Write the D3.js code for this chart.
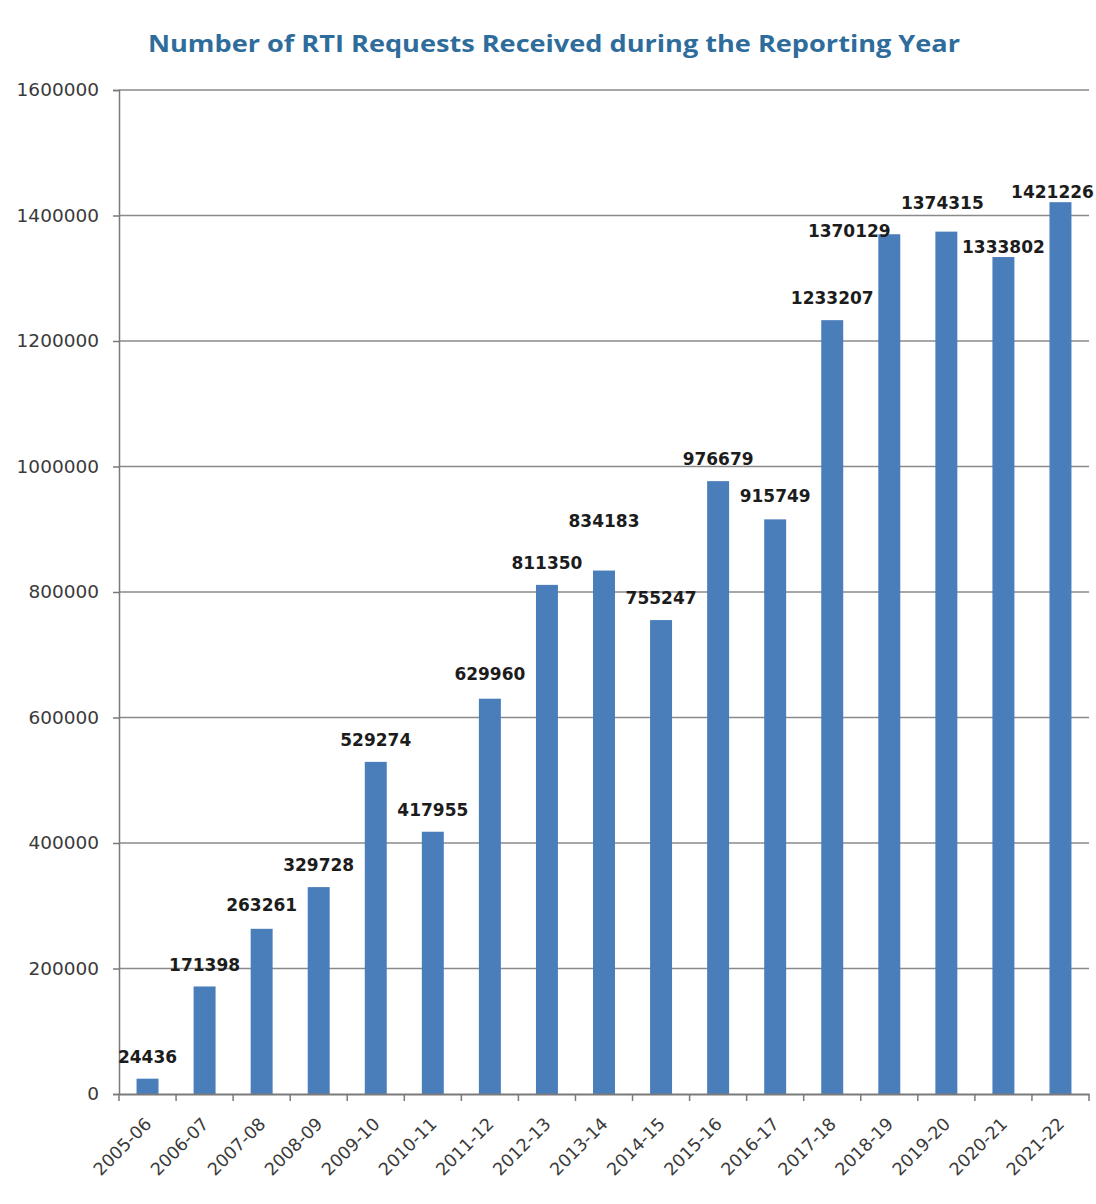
<!DOCTYPE html>
<html>
<head>
<meta charset="utf-8">
<script src="https://cdn.jsdelivr.net/npm/d3@7"></script>
<style>
  body { margin: 0; background: #fff; }
</style>
</head>
<body>
<div id="chart"></div>
<script>
const years = ["2005-06", "2006-07", "2007-08", "2008-09", "2009-10", "2010-11", "2011-12", "2012-13", "2013-14",
	"2014-15", "2015-16", "2016-17", "2017-18", "2018-19", "2019-20", "2020-21", "2021-22"];
const requests = [24436, 171398, 263261, 329728, 529274, 417955, 629960, 811350, 834183,
	755247, 976679, 915749, 1233207, 1370129, 1374315, 1333802, 1421226];
const yTicks = [0, 200000, 400000, 600000, 800000, 1000000, 1200000, 1400000, 1600000];
const titleText = "Number of RTI Requests Received during the Reporting Year";

// hand placed label nudges, like the original (dx, dy)
const labelShift = [[0,0],[0,0],[0,-2],[0,0],[0,0],[0,0],[0,-3],[0,0],[0,-28],
	[0,0],[0,0],[0,-1],[0,0],[-40,19],[-4,-7],[0,12],[-8,12]];

let width = 1096, height = 1204;
let margin = {top: 90, right: 7, bottom: 110, left: 119};
let w = width - margin.left - margin.right;
let h = height - margin.top - margin.bottom;

let root = d3.select("#chart").append("svg")
	.attr("width", width)
	.attr("height", height);

root.append("text")
	.attr("x", 554)
	.attr("y", 52)
	.attr("text-anchor", "middle")
	.attr("textLength", 812)
	.attr("lengthAdjust", "spacingAndGlyphs")
	.style("font-family", "'Open Sans', sans-serif")
	.style("font-weight", "bold")
	.style("font-size", "24px")
	.style("fill", "#2e6c9c")
	.text(titleText);

let svg = root.append("g")
	.attr("transform", `translate(${margin.left},${margin.top})`);

let xScale = d3.scaleBand().domain(years).range([0, w]).paddingInner(0.615).paddingOuter(0.3075);
let yScale = d3.scaleLinear().domain([0, 1600000]).range([h, 0]);

// gridlines
svg.selectAll(".grid")
	.data(yTicks.filter(d => d > 0))
	.enter()
	.append("line")
	.attr("class", "grid")
	.attr("x1", 0)
	.attr("x2", w)
	.attr("y1", d => yScale(d))
	.attr("y2", d => yScale(d))
	.attr("stroke", "#8a8a8a")
	.attr("stroke-width", 1.5);

// y axis
let yAxis = d3.axisLeft(yScale)
	.tickValues(yTicks)
	.tickFormat(d3.format("d"))
	.tickSize(6)
	.tickPadding(14);

let gy = svg.append("g").call(yAxis);
gy.select(".domain").attr("stroke", "#7a7a7a").attr("stroke-width", 1.5);
gy.selectAll(".tick line").attr("stroke", "#7a7a7a").attr("stroke-width", 1.5);
gy.selectAll("text")
	.style("font-family", "'DejaVu Sans', sans-serif")
	.style("font-size", "18.5px")
	.style("fill", "#3a3a3a");

// bars
svg.selectAll(".bar")
	.data(requests)
	.enter()
	.append("rect")
	.attr("class", "bar")
	.attr("x", (d, i) => xScale(years[i]))
	.attr("y", d => yScale(d))
	.attr("width", xScale.bandwidth())
	.attr("height", d => h - yScale(d))
	.attr("fill", "#4a7ebb");

// x axis with ticks between categories
let xAxis = d3.axisBottom(xScale).tickSize(0).tickPadding(0);
let gx = svg.append("g")
	.attr("transform", `translate(0,${h})`)
	.call(xAxis);
gx.select(".domain").attr("stroke", "#7a7a7a").attr("stroke-width", 2);
gx.selectAll(".tick text")
	.attr("text-anchor", "end")
	.attr("dy", 0)
	.attr("transform", "translate(5,31) rotate(-45)")
	.style("font-family", "'DejaVu Sans', sans-serif")
	.style("font-size", "17.5px")
	.style("fill", "#3a3a3a");

let step = xScale.step();
let bounds = years.map(d => xScale(d) + xScale.bandwidth() / 2 - step / 2);
bounds.push(w);
svg.selectAll(".xtick")
	.data(bounds)
	.enter()
	.append("line")
	.attr("class", "xtick")
	.attr("x1", d => d)
	.attr("x2", d => d)
	.attr("y1", h)
	.attr("y2", h + 7)
	.attr("stroke", "#7a7a7a")
	.attr("stroke-width", 1.5);

// value labels
svg.selectAll(".val")
	.data(requests)
	.enter()
	.append("text")
	.attr("class", "val")
	.attr("x", (d, i) => xScale(years[i]) + xScale.bandwidth() / 2 + labelShift[i][0])
	.attr("y", (d, i) => yScale(d) - 22 + labelShift[i][1])
	.attr("dy", "0.36em")
	.attr("text-anchor", "middle")
	.style("font-family", "'DejaVu Sans', sans-serif")
	.style("font-weight", "bold")
	.style("font-size", "17px")
	.style("fill", "#1c1c1c")
	.text(d => d);
</script>
</body>
</html>
